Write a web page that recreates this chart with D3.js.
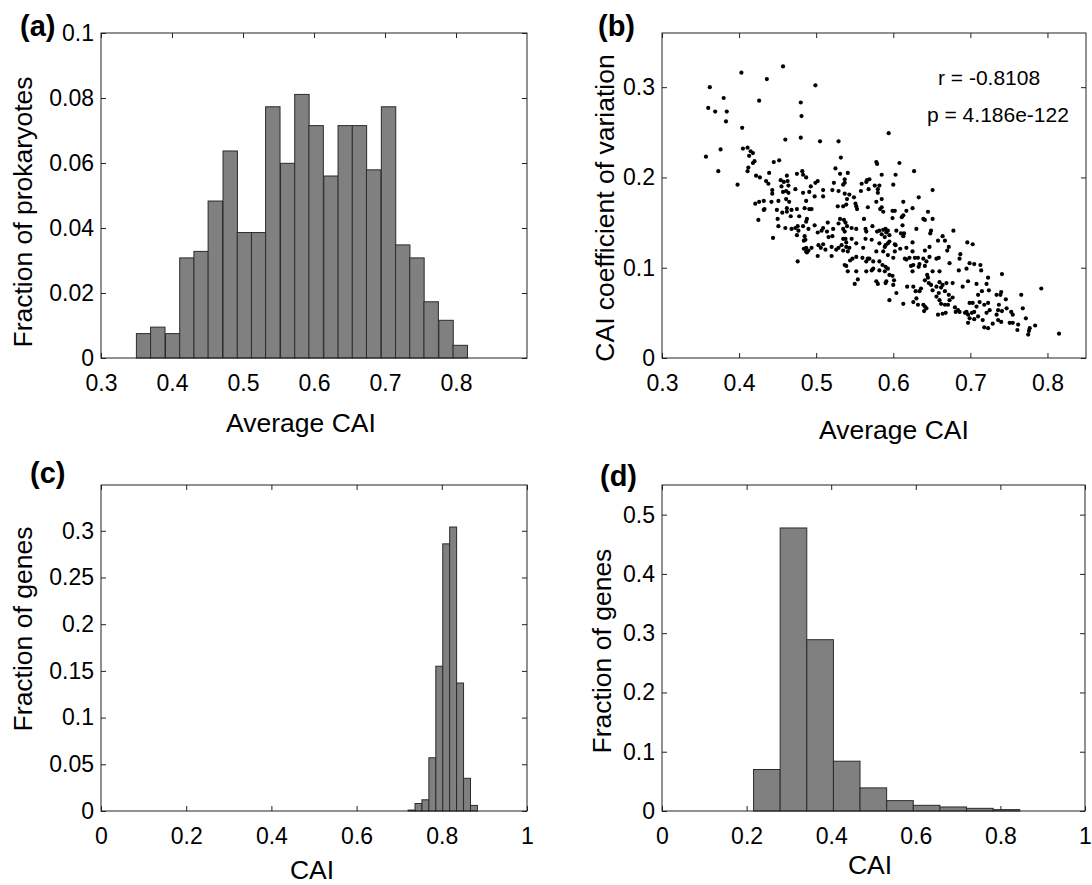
<!DOCTYPE html>
<html>
<head>
<meta charset="utf-8">
<script src="https://cdn.jsdelivr.net/npm/d3@7/dist/d3.min.js"></script>
<style>
  body { margin: 0; background: #fff; }
  svg text { font-family: "Liberation Sans", Arial, Helvetica, sans-serif; fill: #000; }
</style>
</head>
<body>
<svg id="fig" width="1092" height="885"></svg>
<script>
// (a) average CAI per prokaryote
const avgCaiBins = [0.360, 0.380, 0.401, 0.421, 0.441, 0.461, 0.482, 0.502, 0.522, 0.542, 0.563, 0.583,
                    0.603, 0.624, 0.644, 0.664, 0.684, 0.705, 0.725, 0.745, 0.765, 0.786, 0.806];
const avgCaiBinWidth = 0.0203;
const prokFraction = [0.0075, 0.0095, 0.0075, 0.0308, 0.0328, 0.0483, 0.0637, 0.0386, 0.0386, 0.0773, 0.0599, 0.0811,
                      0.0715, 0.0560, 0.0715, 0.0715, 0.0579, 0.0773, 0.0348, 0.0308, 0.0173, 0.0116, 0.0039];

// (b) average CAI vs CAI coefficient of variation
const cvPoints = [
  [0.457,0.323],[0.403,0.316],[0.436,0.309],[0.499,0.302],[0.362,0.300],[0.380,0.288],[0.426,0.285],[0.480,0.283],
  [0.360,0.277],[0.369,0.273],[0.384,0.273],[0.481,0.268],[0.383,0.262],[0.404,0.255],[0.460,0.242],[0.480,0.244],
  [0.505,0.240],[0.529,0.240],[0.376,0.231],[0.357,0.223],[0.405,0.232],[0.411,0.233],[0.415,0.229],[0.418,0.227],
  [0.413,0.224],[0.420,0.218],[0.418,0.216],[0.452,0.219],[0.445,0.217],[0.532,0.222],[0.373,0.207],[0.412,0.211],
  [0.411,0.207],[0.525,0.210],[0.482,0.207],[0.483,0.203],[0.475,0.204],[0.541,0.205],[0.531,0.204],[0.439,0.205],
  [0.422,0.202],[0.427,0.200],[0.462,0.202],[0.487,0.200],[0.398,0.192],[0.435,0.196],[0.438,0.193],[0.454,0.197],
  [0.458,0.195],[0.463,0.196],[0.455,0.190],[0.464,0.191],[0.502,0.196],[0.499,0.194],[0.493,0.190],[0.523,0.194],
  [0.537,0.198],[0.537,0.194],[0.535,0.192],[0.559,0.193],[0.565,0.195],[0.566,0.197],[0.443,0.186],[0.443,0.182],
  [0.457,0.184],[0.461,0.185],[0.464,0.183],[0.473,0.187],[0.483,0.183],[0.491,0.184],[0.498,0.179],[0.509,0.186],
  [0.509,0.179],[0.521,0.186],[0.529,0.185],[0.537,0.182],[0.543,0.181],[0.549,0.178],[0.540,0.176],[0.558,0.185],
  [0.568,0.187],[0.487,0.174],[0.461,0.176],[0.465,0.173],[0.451,0.174],[0.442,0.173],[0.432,0.174],[0.426,0.173],
  [0.421,0.171],[0.539,0.170],[0.551,0.171],
  [0.433,0.165],[0.432,0.164],[0.449,0.164],[0.462,0.166],[0.456,0.161],[0.468,0.164],[0.475,0.165],[0.485,0.166],
  [0.491,0.165],[0.494,0.165],[0.528,0.168],[0.535,0.168],[0.552,0.168],[0.553,0.165],[0.567,0.167],[0.425,0.153],
  [0.450,0.154],[0.467,0.157],[0.478,0.157],[0.488,0.154],[0.487,0.151],[0.462,0.162],[0.451,0.146],[0.460,0.144],
  [0.468,0.143],[0.473,0.144],[0.476,0.146],[0.477,0.141],[0.483,0.146],[0.490,0.143],[0.498,0.147],[0.509,0.144],
  [0.507,0.141],[0.502,0.139],[0.515,0.150],[0.514,0.140],[0.522,0.143],[0.529,0.149],[0.531,0.154],[0.536,0.153],
  [0.538,0.150],[0.540,0.146],[0.535,0.143],[0.537,0.140],[0.546,0.144],[0.552,0.143],[0.562,0.154],[0.564,0.143],
  [0.564,0.132],[0.565,0.140],[0.475,0.136],[0.485,0.135],[0.486,0.131],[0.484,0.130],[0.444,0.133],[0.516,0.134],
  [0.521,0.135],[0.535,0.132],[0.538,0.132],[0.546,0.132],[0.539,0.128],[0.533,0.125],[0.529,0.122],[0.526,0.120],
  [0.520,0.123],[0.512,0.120],[0.509,0.126],[0.506,0.122],[0.503,0.125],[0.494,0.122],[0.487,0.122],[0.484,0.121],
  [0.487,0.118],[0.490,0.119],[0.488,0.117],[0.502,0.113],[0.520,0.113],[0.535,0.119],[0.539,0.123],[0.543,0.122],
  [0.561,0.122],[0.552,0.127],[0.541,0.118],[0.552,0.112],[0.547,0.110],[0.560,0.111],[0.567,0.110],[0.565,0.107],
  [0.544,0.108],[0.537,0.103],[0.539,0.102],[0.541,0.096],[0.552,0.096],[0.565,0.096],[0.554,0.087],[0.550,0.082],
  [0.476,0.107],
  [0.585,0.167],[0.583,0.165],[0.587,0.162],[0.599,0.163],[0.602,0.163],[0.617,0.163],[0.625,0.166],[0.613,0.158],
  [0.611,0.156],[0.599,0.155],[0.645,0.162],[0.639,0.154],[0.641,0.153],[0.651,0.154],[0.573,0.146],[0.582,0.141],
  [0.579,0.140],[0.587,0.142],[0.590,0.143],[0.593,0.141],[0.591,0.139],[0.585,0.137],[0.589,0.134],[0.595,0.136],
  [0.604,0.141],[0.612,0.147],[0.610,0.138],[0.613,0.135],[0.614,0.138],[0.630,0.143],[0.649,0.141],[0.648,0.138],
  [0.664,0.135],[0.667,0.130],[0.658,0.130],[0.678,0.141],[0.625,0.128],[0.572,0.131],[0.582,0.127],[0.590,0.125],
  [0.589,0.123],[0.593,0.127],[0.595,0.129],[0.602,0.126],[0.603,0.125],[0.609,0.121],[0.617,0.122],[0.625,0.118],
  [0.641,0.119],[0.647,0.123],[0.672,0.123],[0.670,0.119],[0.687,0.115],[0.696,0.128],[0.703,0.126],[0.578,0.118],
  [0.587,0.118],[0.593,0.114],[0.602,0.118],[0.600,0.111],[0.615,0.110],[0.617,0.109],[0.621,0.111],[0.628,0.111],
  [0.632,0.111],[0.639,0.110],[0.647,0.112],[0.656,0.110],[0.659,0.111],[0.569,0.110],[0.574,0.107],[0.582,0.107],
  [0.586,0.103],[0.590,0.101],[0.593,0.099],[0.589,0.096],[0.574,0.099],[0.572,0.097],[0.582,0.097],[0.626,0.103],
  [0.633,0.101],[0.643,0.107],[0.641,0.102],[0.634,0.104],[0.623,0.102],[0.625,0.096],[0.651,0.096],[0.660,0.096],
  [0.673,0.105],[0.686,0.110],[0.685,0.097],[0.695,0.099],[0.699,0.105],[0.705,0.104],[0.713,0.103],[0.714,0.097],
  [0.723,0.089],[0.741,0.093],[0.740,0.073],[0.677,0.083],[0.669,0.083],[0.690,0.079],[0.697,0.085],[0.708,0.082],
  [0.721,0.082],[0.715,0.074],[0.724,0.075],[0.734,0.070],[0.739,0.070],[0.746,0.065],[0.766,0.070],[0.792,0.077],
  [0.595,0.092],[0.599,0.091],[0.601,0.086],[0.600,0.081],[0.591,0.085],[0.580,0.082],[0.590,0.083],[0.578,0.085],
  [0.604,0.072],[0.595,0.064],[0.613,0.060],[0.618,0.079],[0.626,0.079],[0.629,0.074],[0.630,0.066],[0.626,0.062],
  [0.634,0.074],[0.636,0.077],[0.641,0.086],[0.645,0.089],[0.646,0.083],[0.644,0.092],[0.649,0.081],[0.651,0.075],
  [0.656,0.079],[0.660,0.084],[0.662,0.078],[0.664,0.081],[0.667,0.074],[0.659,0.072],[0.656,0.068],[0.660,0.064],
  [0.662,0.060],[0.667,0.059],[0.672,0.070],[0.673,0.064],[0.671,0.059],[0.677,0.067],[0.680,0.056],[0.684,0.053],
  [0.681,0.051],[0.686,0.051],[0.693,0.050],[0.695,0.051],[0.697,0.048],[0.702,0.050],[0.705,0.051],[0.708,0.057],
  [0.703,0.061],[0.699,0.061],[0.710,0.070],[0.712,0.062],[0.718,0.059],[0.723,0.061],[0.725,0.053],[0.721,0.050],
  [0.710,0.046],[0.699,0.044],[0.697,0.039],[0.705,0.043],[0.716,0.042],[0.718,0.034],[0.723,0.033],[0.729,0.038],
  [0.734,0.048],[0.736,0.053],[0.741,0.052],[0.737,0.059],[0.747,0.055],[0.753,0.051],[0.755,0.048],[0.736,0.042],
  [0.740,0.040],[0.751,0.039],[0.755,0.039],[0.762,0.037],[0.761,0.031],[0.768,0.055],[0.772,0.044],[0.777,0.033],
  [0.776,0.030],[0.784,0.036],[0.775,0.026],[0.664,0.049],[0.658,0.048],[0.668,0.050],[0.639,0.059],[0.641,0.057],
  [0.643,0.055],[0.640,0.052],[0.632,0.059],
  [0.594,0.249],[0.578,0.217],[0.579,0.215],[0.608,0.216],[0.627,0.207],[0.585,0.203],[0.603,0.203],[0.569,0.198],
  [0.600,0.192],[0.576,0.191],[0.582,0.191],[0.580,0.187],[0.580,0.183],[0.585,0.176],[0.651,0.186],[0.633,0.178],
  [0.613,0.173],[0.578,0.173],
  [0.815,0.027]
];
const corrLines = ['r = -0.8108', 'p = 4.186e-122'];

// (c) CAI of genes, one genome
const geneBinsC = [0.7290, 0.7453, 0.7616, 0.7778, 0.7941, 0.8104, 0.8266, 0.8429, 0.8592, 0.8755];
const geneBinWidthC = 0.0163;
const geneFractionC = [0.001, 0.008, 0.012, 0.057, 0.155, 0.286, 0.304, 0.137, 0.035, 0.006];

// (d) CAI of genes, other genome
const geneBinsD = [0.2479, 0.3108, 0.3738, 0.4367, 0.4996, 0.5626, 0.6255, 0.6885, 0.7514, 0.8143];
const geneBinWidthD = 0.0629;
const geneFractionD = [0.070, 0.4775, 0.289, 0.084, 0.039, 0.0175, 0.0096, 0.0068, 0.0045, 0.0023];

const svg = d3.select('#fig');
svg.append('rect').attr('width', 1092).attr('height', 885).attr('fill', '#fff');

const fmt = d => d === 0 ? '0' : String(+d.toFixed(3));

function makePanel(box, xDomain, yDomain) {
  const w = box.right - box.left;
  const h = box.bottom - box.top;
  const g = svg.append('g').attr('transform', `translate(${box.left},${box.top})`);
  const x = d3.scaleLinear().domain(xDomain).range([0, w]);
  const y = d3.scaleLinear().domain(yDomain).range([h, 0]);
  return { g, x, y, w, h };
}

// inward ticks on all four sides, labels bottom + left (matlab style)
function drawAxes(p, xTicks, yTicks) {
  const tk = 5;
  p.g.append('g').attr('transform', `translate(0,${p.h})`)
    .call(d3.axisBottom(p.x).tickValues(xTicks).tickFormat(fmt).tickSizeInner(-tk).tickSizeOuter(0).tickPadding(17));
  p.g.append('g')
    .call(d3.axisTop(p.x).tickValues(xTicks).tickFormat('').tickSizeInner(-tk).tickSizeOuter(0));
  p.g.append('g')
    .call(d3.axisLeft(p.y).tickValues(yTicks).tickFormat(fmt).tickSizeInner(-tk).tickSizeOuter(0).tickPadding(7));
  p.g.append('g').attr('transform', `translate(${p.w},0)`)
    .call(d3.axisRight(p.y).tickValues(yTicks).tickFormat('').tickSizeInner(-tk).tickSizeOuter(0));
  p.g.selectAll('.domain').remove();
  p.g.selectAll('.tick line').attr('stroke', '#222');
  p.g.selectAll('.tick text').style('font-size', '23px').attr('fill', '#000');
}

function drawFrame(p) {
  p.g.append('rect')
    .attr('x', 0).attr('y', 0).attr('width', p.w).attr('height', p.h)
    .attr('fill', 'none').attr('stroke', '#222').attr('stroke-width', 1);
}

function drawBars(p, centers, values, width) {
  p.g.append('g').selectAll('rect')
    .data(centers.map((c, i) => ({ c, v: values[i] })))
    .join('rect')
    .attr('x', d => p.x(d.c - width / 2))
    .attr('y', d => p.y(d.v))
    .attr('width', d => p.x(d.c + width / 2) - p.x(d.c - width / 2))
    .attr('height', d => p.y(0) - p.y(d.v))
    .attr('fill', '#808080')
    .attr('stroke', '#2b2b2b')
    .attr('stroke-width', 1);
}

function label(txt, x, y, size, opts = {}) {
  const t = svg.append('text').attr('x', x).attr('y', y)
    .style('font-size', size + 'px')
    .attr('text-anchor', opts.anchor || 'start')
    .text(txt);
  if (opts.bold) t.style('font-weight', 'bold');
  if (opts.rotate) t.attr('transform', `rotate(-90,${x},${y})`);
  return t;
}

// ---- (a)
const pa = makePanel({ left: 101, right: 527, top: 33, bottom: 358 }, [0.3, 0.9], [0, 0.1]);
drawAxes(pa, [0.3, 0.4, 0.5, 0.6, 0.7, 0.8], [0, 0.02, 0.04, 0.06, 0.08, 0.1]);
drawBars(pa, avgCaiBins, prokFraction, avgCaiBinWidth);
drawFrame(pa);
label('(a)', 20, 36, 29, { bold: true });
label('Fraction of prokaryotes', 32, 212, 26.5, { anchor: 'middle', rotate: true });
label('Average CAI', 301, 432, 26.5, { anchor: 'middle' });

// ---- (b)
const pb = makePanel({ left: 662, right: 1086, top: 33, bottom: 358 }, [0.3, 0.85], [0, 0.36]);
drawAxes(pb, [0.3, 0.4, 0.5, 0.6, 0.7, 0.8], [0, 0.1, 0.2, 0.3]);
pb.g.append('g').selectAll('circle')
  .data(cvPoints)
  .join('circle')
  .attr('cx', d => pb.x(d[0]))
  .attr('cy', d => pb.y(d[1]))
  .attr('r', 2.1)
  .attr('fill', '#000');
drawFrame(pb);
label(corrLines[0], 938, 85, 21);
label(corrLines[1], 927, 122, 21);
label('(b)', 598, 36, 29, { bold: true });
label('CAI coefficient of variation', 614, 208, 26.5, { anchor: 'middle', rotate: true });
label('Average CAI', 894, 439, 26.5, { anchor: 'middle' });

// ---- (c)
const pc = makePanel({ left: 101, right: 527, top: 485, bottom: 811 }, [0, 1], [0, 0.349]);
drawAxes(pc, [0, 0.2, 0.4, 0.6, 0.8, 1], [0, 0.05, 0.1, 0.15, 0.2, 0.25, 0.3]);
drawBars(pc, geneBinsC, geneFractionC, geneBinWidthC);
drawFrame(pc);
label('(c)', 30, 483, 29, { bold: true });
label('Fraction of genes', 32, 629, 26.5, { anchor: 'middle', rotate: true });
label('CAI', 312, 879, 26.5, { anchor: 'middle' });

// ---- (d)
const pd = makePanel({ left: 662, right: 1085, top: 485, bottom: 811 }, [0, 1], [0, 0.55]);
drawAxes(pd, [0, 0.2, 0.4, 0.6, 0.8, 1], [0, 0.1, 0.2, 0.3, 0.4, 0.5]);
drawBars(pd, geneBinsD, geneFractionD, geneBinWidthD);
drawFrame(pd);
label('(d)', 600, 486, 29, { bold: true });
label('Fraction of genes', 611, 651, 26.5, { anchor: 'middle', rotate: true });
label('CAI', 870, 874, 26.5, { anchor: 'middle' });
</script>
</body>
</html>
